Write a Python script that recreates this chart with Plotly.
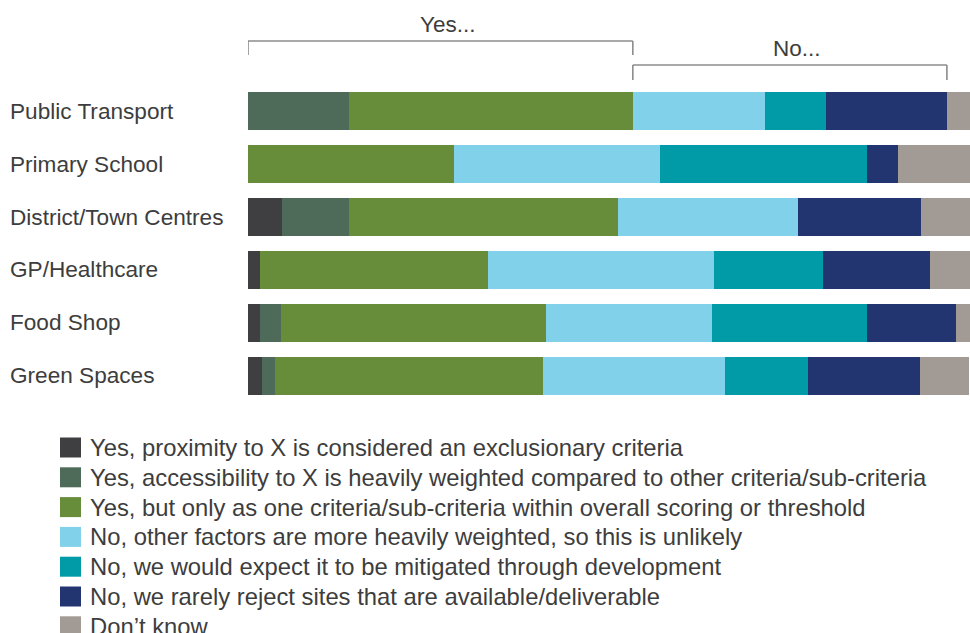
import plotly.graph_objects as go

categories = ["Public Transport", "Primary School", "District/Town Centres",
              "GP/Healthcare", "Food Shop", "Green Spaces"]

series_names = [
    "Yes, proximity to X is considered an exclusionary criteria",
    "Yes, accessibility to X is heavily weighted compared to other criteria/sub-criteria",
    "Yes, but only as one criteria/sub-criteria within overall scoring or threshold",
    "No, other factors are more heavily weighted, so this is unlikely",
    "No, we would expect it to be mitigated through development",
    "No, we rarely reject sites that are available/deliverable",
    "Don’t know",
]

exclusionary = [0.0, 0.0, 4.7, 1.7, 1.7, 1.9]
heavily_weighted = [14.0, 0.0, 9.3, 0.0, 2.9, 1.9]
one_criteria = [39.3, 28.5, 37.3, 31.6, 36.7, 37.0]
other_factors = [18.3, 28.5, 24.9, 31.3, 23.0, 25.3]
mitigated = [8.4, 28.7, 0.0, 15.0, 21.5, 11.5]
rarely_reject = [16.8, 4.3, 17.0, 14.8, 12.2, 15.5]
dont_know = [3.2, 10.0, 6.8, 5.7, 2.1, 6.8]

series_values = [exclusionary, heavily_weighted, one_criteria, other_factors,
                 mitigated, rarely_reject, dont_know]
colors = ["#3f3f41", "#4e6b59", "#678c3a", "#80d1e9", "#019ba7", "#233570", "#a29a94"]

bracket_labels = ["Yes...", "No..."]

W, H = 970, 633
ML, MR, MT, MB = 248, 0, 85, 231
plot_h = H - MT - MB

def py(p):
    # pixel y (from top) -> paper y
    return (H - MB - p) / plot_h

def px(p):
    return (p - ML) / (W - ML - MR)

fig = go.Figure()
for name, vals, col in zip(series_names, series_values, colors):
    fig.add_trace(go.Bar(
        y=categories, x=vals, name=name, orientation="h",
        marker=dict(color=col, line=dict(width=0)),
        showlegend=False, hoverinfo="x+name",
    ))

TEXT = "#3d3d3d"
font_family = "Liberation Sans, Arial, sans-serif"

# category labels, left aligned
annotations = []
for c in categories:
    annotations.append(dict(
        x=px(8), xref="paper", y=c, yref="y", text=c, showarrow=False,
        xanchor="left", yanchor="middle", font=dict(size=22.6, color=TEXT, family=font_family),
    ))

# brackets computed from first row (Public Transport)
yes_total = sum(v[0] for v in series_values[:3])
no_total = yes_total + sum(v[0] for v in series_values[3:6])
shapes = []
line_col = "#8c8c8c"
brackets = [(0, yes_total, 41, 55, 24), (yes_total, no_total, 65, 80, 48)]
for (x0, x1, ytop, ybot, ytext), lab in zip(brackets, bracket_labels):
    shapes.append(dict(type="line", xref="x", yref="paper", x0=x0, x1=x1,
                       y0=py(ytop), y1=py(ytop), line=dict(color=line_col, width=1.6)))
    for xx in (x0, x1):
        shapes.append(dict(type="line", xref="x", yref="paper", x0=xx, x1=xx,
                           y0=py(ytop), y1=py(ybot), line=dict(color=line_col, width=1.6)))
    annotations.append(dict(
        x=(x0 + x1) / 2 + 1.0, xref="x", y=py(ytext), yref="paper", text=lab, showarrow=False,
        xanchor="center", yanchor="middle", font=dict(size=22.5, color=TEXT, family=font_family),
    ))

# manual legend
row0, step = 447.5, 29.8
for i, (name, col) in enumerate(zip(series_names, colors)):
    cy = row0 + i * step
    shapes.append(dict(type="rect", xref="paper", yref="paper",
                       x0=px(60), x1=px(81), y0=py(cy - 10), y1=py(cy + 10),
                       fillcolor=col, line=dict(width=0)))
    annotations.append(dict(
        x=px(88), xref="paper", y=py(cy), yref="paper", text=name, showarrow=False,
        xanchor="left", yanchor="middle", font=dict(size=23.8, color=TEXT, family=font_family),
    ))

fig.update_layout(
    barmode="stack", bargap=0.28,
    width=W, height=H,
    margin=dict(l=ML, r=MR, t=MT, b=MB, pad=0),
    paper_bgcolor="white", plot_bgcolor="white",
    xaxis=dict(range=[0, 100], visible=False, fixedrange=True),
    yaxis=dict(categoryorder="array", categoryarray=categories, autorange="reversed",
               showticklabels=False, showgrid=False, zeroline=False, fixedrange=True),
    shapes=shapes, annotations=annotations,
    font=dict(family=font_family),
)

fig.write_html("out.html")
